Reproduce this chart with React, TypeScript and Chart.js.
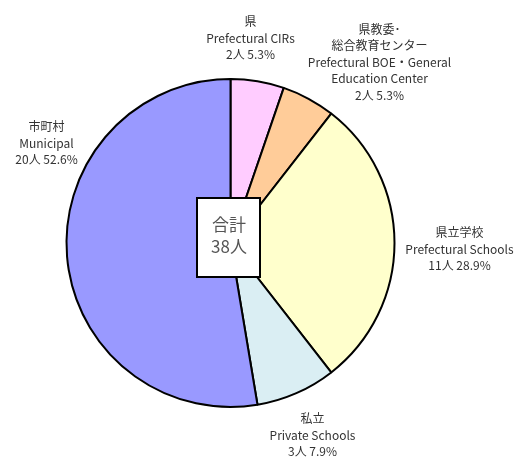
import React, { useEffect, useRef } from "react";
import { Chart, registerables } from "chart.js";

Chart.register(...registerables);

const categories = ["県", "県教委・総合教育センター", "県立学校", "私立", "市町村"];
const counts = [2, 2, 11, 3, 20];
const colors = ["#FFCCFF", "#FFCC99", "#FFFFCC", "#DAEEF3", "#9999FF"];
const labelLines = [
  ["県", "Prefectural CIRs", "2人 5.3%"],
  ["県教委･", "総合教育センター", "Prefectural BOE・General", "Education Center", "2人 5.3%"],
  ["県立学校", "Prefectural Schools", "11人 28.9%"],
  ["私立", "Private Schools", "3人 7.9%"],
  ["市町村", "Municipal", "20人 52.6%"],
];
const totalLabel = ["合計", "38人"];

// label block centre offsets (px) from pie centre
const labelOffsets = [
  [20, -205],
  [149, -181],
  [229, 6],
  [82, 192],
  [-184, -100],
];

const labelsPlugin = {
  id: "customLabels",
  afterDraw(chart: any) {
    const ctx = chart.ctx;
    const meta = chart.getDatasetMeta(0);
    const arc0 = meta.data[0];
    const cx = arc0.x;
    const cy = arc0.y;
    ctx.save();
    ctx.font = '12px "Noto Sans CJK JP", "Noto Sans", sans-serif';
    ctx.fillStyle = "#333";
    ctx.textAlign = "center";
    ctx.textBaseline = "middle";
    const lh = 16.5;
    labelLines.forEach((lines, i) => {
      const [ox, oy] = labelOffsets[i];
      const n = lines.length;
      lines.forEach((t, j) => {
        ctx.fillText(t, cx + ox, cy + oy + (j - (n - 1) / 2) * lh);
      });
    });
    // total box
    const bx = cx - 33.5, by = cy - 45, bw = 63, bh = 79;
    ctx.fillStyle = "#fff";
    ctx.fillRect(bx, by, bw, bh);
    ctx.strokeStyle = "#000";
    ctx.lineWidth = 2;
    ctx.strokeRect(bx, by, bw, bh);
    ctx.fillStyle = "#555";
    ctx.font = '17px "Noto Sans CJK JP", "Noto Sans", sans-serif';
    ctx.fillText(totalLabel[0], cx - 1.5, cy - 18);
    ctx.fillText(totalLabel[1], cx - 1.5, cy + 4);
    ctx.restore();
  },
};

export default function App() {
  const ref = useRef<HTMLCanvasElement>(null);
  useEffect(() => {
    const chart = new Chart(ref.current!, {
      type: "pie",
      data: {
        labels: categories,
        datasets: [
          {
            data: counts,
            backgroundColor: colors,
            borderColor: "#000",
            borderWidth: 2,
          },
        ],
      },
      options: {
        animation: false,
        responsive: false,
        radius: 164,
        layout: { padding: { left: 66.5, right: 130.5, top: 79, bottom: 50 } },
        plugins: {
          legend: { display: false },
          tooltip: { enabled: false },
        },
      } as any,
      plugins: [labelsPlugin],
    });
    return () => chart.destroy();
  }, []);
  return (
    <div style={{ position: "fixed", left: 0, top: 0, width: 525, height: 457, background: "#fff" }}>
      <canvas ref={ref} width={525} height={457} style={{ width: 525, height: 457 }} />
    </div>
  );
}
